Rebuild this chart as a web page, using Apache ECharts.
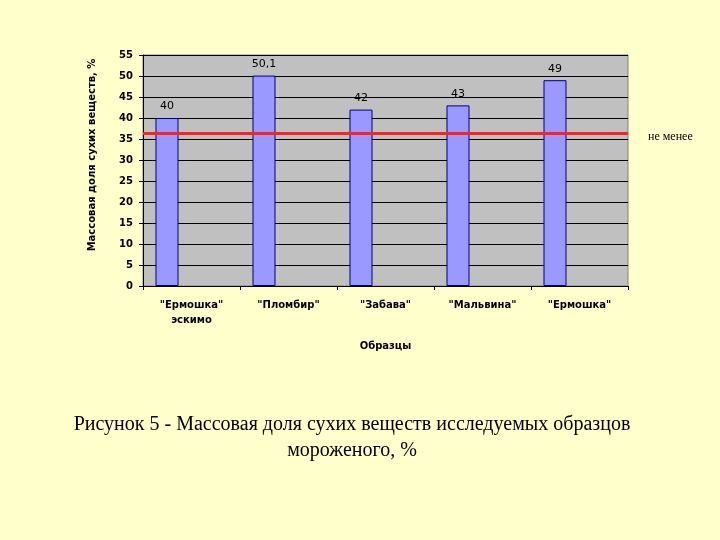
<!DOCTYPE html>
<html>
<head>
<meta charset="utf-8">
<script src="https://cdn.jsdelivr.net/npm/echarts@6/dist/echarts.min.js"></script>
<style>
html,body{margin:0;padding:0;background:#FFFFCC;}
#chart{width:720px;height:540px;}
</style>
</head>
<body>
<div id="chart"></div>
<script>
// образцы и массовая доля сухих веществ
var categories = ['"Ермошка"\nэскимо', '"Пломбир"', '"Забава"', '"Мальвина"', '"Ермошка"'];
var values = [40, 50.1, 42, 43, 49];
var valueLabels = ['40', '50,1', '42', '43', '49'];
var normValue = 36.4;
var yTicks = [0, 5, 10, 15, 20, 25, 30, 35, 40, 45, 50, 55];

var chart = echarts.init(document.getElementById('chart'));
var option = {
	backgroundColor: '#FFFFCC',
	animation: false,
	grid: {left: 143, right: 92, top: 55, bottom: 254, show: true,
		backgroundColor: '#C0C0C0', borderColor: '#808080', borderWidth: 1},
	xAxis: {
		type: 'category',
		data: categories,
		name: 'Образцы',
		nameLocation: 'middle',
		nameGap: 55,
		nameTextStyle: {fontFamily: 'DejaVu Sans', fontWeight: 'bold', fontSize: 10, color: '#000'},
		axisLine: {lineStyle: {color: '#000', width: 1}},
		axisTick: {show: true, length: 4, lineStyle: {color: '#000'}},
		axisLabel: {fontFamily: 'DejaVu Sans', fontWeight: 'bold', fontSize: 10, color: '#000', margin: 12, lineHeight: 15}
	},
	yAxis: {
		type: 'value',
		min: 0, max: 55, interval: 5,
		axisLine: {show: true, lineStyle: {color: '#000'}},
		axisTick: {show: true, length: 4, lineStyle: {color: '#000'}},
		axisLabel: {fontFamily: 'DejaVu Sans', fontWeight: 'bold', fontSize: 10, color: '#000', margin: 10,
			formatter: function(v){ return yTicks.indexOf(v) >= 0 ? String(v) : ''; }},
		splitLine: {lineStyle: {color: '#000', width: 1}}
	},
	series: [{
		type: 'bar',
		data: values,
		barWidth: 23,
		barGap: '113%',
		itemStyle: {color: '#9999FF', borderColor: '#000080', borderWidth: 1},
		label: {show: true, position: 'top', distance: 6, fontFamily: 'DejaVu Sans', fontSize: 11, color: '#000',
			formatter: function(p){ return valueLabels[p.dataIndex]; }},
		markLine: {
			silent: true,
			symbol: 'none',
			data: [{yAxis: normValue}],
			lineStyle: {color: '#FF2020', width: 3, type: 'solid'},
			label: {show: true, position: 'end', distance: 20, offset: [0, 4], formatter: 'не менее',
				fontFamily: 'Liberation Serif', fontSize: 12, color: '#000'}
		}
	}, {
		type: 'bar',
		data: [null, null, null, null, null],
		barWidth: 23
	}],
	graphic: [{
		type: 'text',
		x: 92,
		y: 155,
		rotation: Math.PI / 2,
		style: {
			text: 'Массовая доля сухих веществ, %',
			font: 'bold 10px "DejaVu Sans"',
			fill: '#000',
			textAlign: 'center',
			textVerticalAlign: 'middle'
		}
	}, {
		type: 'text',
		x: 352,
		y: 412,
		style: {
			text: 'Рисунок 5 - Массовая доля сухих веществ исследуемых образцов\nмороженого, %',
			font: '20px "Liberation Serif"',
			fill: '#000',
			textAlign: 'center',
			lineHeight: 26
		}
	}]
};
chart.setOption(option);
</script>
</body>
</html>
